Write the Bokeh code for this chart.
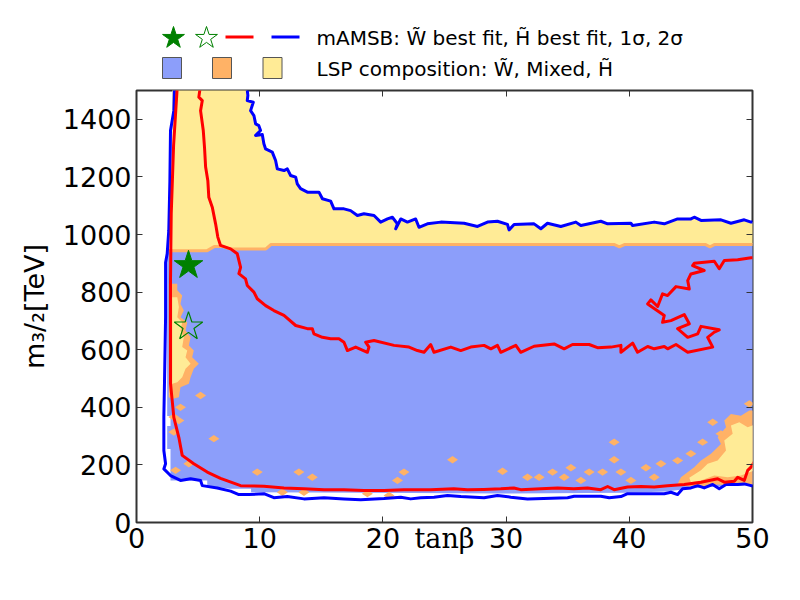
import numpy as np
from bokeh.plotting import figure
from bokeh.models import Range1d, FixedTicker, LinearAxis
from bokeh.layouts import column
from bokeh.embed import file_html
from bokeh.resources import INLINE
from bokeh.core.properties import value

# ---------------- data (tanβ, m3/2 [TeV]) ----------------
x_ticks = [0, 10, 20, 30, 40, 50]
y_ticks = [0, 200, 400, 600, 800, 1000, 1200, 1400]

wino_bf_x = [4.22]
wino_bf_y = [893]
higgsino_bf_x = [4.22]
higgsino_bf_y = [680]

# 1 sigma contour (red), outer branch (left + bottom)
red_outer_x = [3.21, 3.29, 3.01, 2.82, 2.76, 2.76, 3.03, 3.44, 3.71, 4.65,
               5.74, 6.82, 8.45, 10.34, 11.97, 13.59, 15.22, 16.84, 18.46, 20.09,
               21.71, 23.88, 25.75, 26.86, 28.19, 29.57, 30.63, 31.19, 32.82, 34.18,
               35.5, 36.61, 37.69, 38.24, 38.77, 39.86, 40.94, 42.02, 43.11, 44.46,
               45.82, 47.17, 47.71, 48.52, 48.80, 49.33, 49.61, 49.88, 50.2]
red_outer_y = [1520, 1500, 1309, 1073, 840, 483, 365, 295, 233, 204,
               175, 153, 128, 126, 120, 117, 114, 114, 111, 111,
               114, 114, 117, 114, 115, 117, 120, 114, 117, 120,
               117, 120, 114, 125, 114, 123, 125, 123, 128, 132,
               140, 152, 140, 143, 157, 146, 181, 192, 215]

# 1 sigma contour (red), inner branch
red_inner_x = [5.20, 5.06, 5.34, 5.20, 5.42, 5.52, 5.61, 5.79, 5.87, 6.15,
               6.42, 6.60, 6.82, 7.64, 8.18, 8.45, 8.31, 8.85, 8.99, 9.53,
               9.80, 10.48, 11.15, 11.97, 12.92, 13.87, 14.27, 14.40, 15.09, 15.76,
               16.43, 16.84, 17.12, 17.79, 18.74, 18.87, 18.60, 19.28, 20.90, 22.12,
               22.80, 23.34, 23.88, 24.15, 25.51, 26.32, 27.13, 28.21, 28.76, 29.30,
               29.57, 30.79, 31.19, 32.27, 33.90, 34.71, 35.39, 36.74, 37.42, 38.51,
               39.32, 39.32, 40.27, 40.67, 41.49, 42.02, 42.84, 43.11, 43.79, 44.74,
               46.77, 46.36, 46.90, 47.30, 45.82, 45.55, 44.74, 43.92, 44.87, 44.46,
               43.38, 42.70, 42.84, 41.49, 41.75, 42.30, 42.70, 43.11, 43.79, 44.87,
               44.74, 45.00, 46.08, 45.14, 45.27, 46.90, 47.30, 47.71, 48.80, 49.88,
               50.15]
red_inner_y = [1520, 1477, 1465, 1430, 1361, 1303, 1234, 1187, 1129, 1095,
               1037, 991, 962, 950, 933, 886, 864, 846, 823, 800,
               777, 753, 736, 719, 684, 673, 673, 655, 643, 638,
               638, 626, 597, 609, 591, 609, 626, 632, 615, 609,
               597, 591, 618, 591, 609, 597, 609, 615, 603, 615,
               591, 615, 591, 612, 620, 603, 618, 618, 607, 609,
               615, 591, 623, 591, 611, 603, 611, 603, 618, 591,
               609, 643, 661, 669, 681, 655, 643, 673, 690, 722,
               701, 695, 719, 759, 773, 750, 794, 788, 819, 811,
               840, 863, 875, 892, 900, 907, 881, 910, 912, 919,
               919]

# 2 sigma contour (blue), outer branch (left + bottom)
blue_outer_x = [3.09, 3.03, 2.76, 2.71, 2.62, 2.49, 2.36, 2.36, 2.27, 2.22,
                2.22, 2.36, 2.22, 2.76, 3.57, 4.39, 5.20, 5.34, 6.56, 7.64,
                8.31, 9.12, 10.34, 11.15, 12.24, 13.59, 15.22, 16.84, 18.20, 20.09,
                21.45, 22.26, 23.07, 24.15, 25.24, 26.32, 28.21, 29.30, 30.38, 31.74,
                34.99, 35.52, 37.69, 38.37, 39.32, 39.86, 42.84, 43.38, 43.92, 44.33,
                45.00, 45.55, 46.08, 46.77, 47.30, 47.85, 48.80, 49.33, 49.88, 50.2]
blue_outer_y = [1527, 1430, 1361, 1187, 1014, 933, 903, 713, 482, 366,
                250, 204, 186, 163, 146, 152, 146, 128, 120, 109,
                97, 97, 100, 86, 90, 82, 86, 82, 79, 83,
                88, 82, 86, 88, 94, 90, 86, 94, 88, 82,
                86, 91, 91, 86, 90, 100, 100, 105, 97, 117,
                120, 128, 120, 132, 117, 132, 132, 134, 128, 128]

# 2 sigma contour (blue), upper branch
blue_upper_x = [8.94, 9.04, 8.99, 9.48, 9.26, 9.53, 9.67, 9.93, 10.07, 9.67,
                10.21, 10.34, 10.48, 11.02, 11.29, 11.43, 11.97, 12.24, 12.51, 12.92,
                13.05, 13.32, 13.87, 14.81, 15.09, 15.76, 16.03, 16.84, 17.38, 17.93,
                18.46, 19.28, 19.82, 20.37, 20.77, 21.18, 21.04, 21.45, 21.99, 22.66,
                22.93, 23.61, 24.70, 26.59, 27.68, 28.49, 29.30, 30.11, 30.24, 30.65,
                32.27, 32.82, 33.36, 34.44, 35.66, 36.07, 37.69, 38.24, 40.13, 40.27,
                42.02, 42.84, 43.92, 45.00, 45.27, 45.82, 47.44, 48.25, 49.33, 49.88, 50.2]
blue_upper_y = [1520, 1483, 1465, 1459, 1430, 1413, 1384, 1378, 1361, 1344,
                1347, 1315, 1297, 1286, 1257, 1228, 1222, 1228, 1205, 1199,
                1176, 1159, 1147, 1147, 1124, 1116, 1089, 1089, 1083, 1066,
                1072, 1066, 1043, 1054, 1060, 1037, 1020, 1054, 1043, 1054,
                1025, 1037, 1043, 1039, 1028, 1043, 1046, 1035, 1016, 1035,
                1037, 1020, 1039, 1028, 1043, 1031, 1046, 1037, 1039, 1031,
                1043, 1037, 1054, 1054, 1060, 1049, 1051, 1039, 1051, 1043, 1043]

# LSP composition: boundary between wino (below) and higgsino (above)
bnd_x = [2.49, 5.74, 6.3, 7.0, 7.6, 10.5, 10.9, 38.8, 39.2, 39.6, 46.2, 46.55, 46.9, 50.2]
bnd_y = [944, 944, 958, 958, 950, 950, 965, 965, 957, 965, 965, 957, 965, 965]

# lower edge of the wino region (right to left, then up the left side)
wino_floor_x = [50.2, 48.0, 45.0, 43.0, 39.8, 30.0, 18.5, 9.3, 9.3, 7.6,
                5.74, 5.74, 2.76, 2.76, 2.49, 2.49, 2.76, 2.76, 2.49]
wino_floor_y = [130, 128, 118, 108, 103, 101, 103, 105, 117, 117,
                128, 146, 146, 255, 255, 335, 335, 370, 370]

# mixed / higgsino patches on the left
left_mixed_x = [2.62, 3.31, 3.31, 3.71, 3.57, 3.84, 3.57, 4.12, 3.98, 4.39,
                4.25, 4.65, 4.52, 5.06, 4.65, 4.39, 4.25, 3.57, 3.44, 2.90, 2.62]
left_mixed_y = [829, 829, 806, 788, 759, 736, 713, 695, 667, 643,
                615, 597, 574, 551, 534, 504, 482, 470, 435, 429, 435]
left_higgsino_x = [2.90, 3.31, 3.44, 3.31, 3.71, 3.57, 3.84, 3.71, 4.12, 3.98,
                   4.39, 3.98, 3.71, 3.31, 2.90]
left_higgsino_y = [782, 782, 748, 713, 695, 667, 643, 609, 597, 574,
                   551, 534, 504, 487, 482]

# mixed / higgsino patches at the lower right
br_mixed_x = [43.92, 44.19, 45.27, 45.82, 46.63, 47.44, 47.17, 47.85, 47.71, 48.25,
              49.06, 49.74, 50.2, 50.2, 48.52, 47.17, 45.82, 44.74]
br_mixed_y = [134, 157, 192, 215, 239, 273, 296, 331, 354, 377,
              371, 389, 389, 132, 128, 132, 125, 125]
br_higgsino_x = [44.87, 45.82, 46.36, 47.17, 47.85, 47.71, 48.39, 48.25, 48.93, 49.61,
                 50.2, 50.2, 49.06, 47.98, 46.90, 45.82, 45.00]
br_higgsino_y = [155, 181, 204, 215, 250, 285, 308, 337, 348, 331,
                 340, 181, 163, 157, 163, 146, 140]

# isolated mixed-composition points
mixed_pts_x = [3.57, 3.03, 3.44, 3.03, 5.20, 6.28, 4.25, 3.17, 9.80, 13.18,
               14.27, 21.71, 21.18, 11.84, 13.59, 18.74, 20.50, 25.65, 29.71, 31.74,
               32.68, 33.77, 35.26, 34.71, 36.07, 36.74, 37.83, 38.77, 38.77, 39.32,
               40.13, 41.35, 42.57, 43.92, 42.02, 46.77, 47.44, 45.95, 49.74, 45.00]
mixed_pts_y = [400, 366, 354, 314, 441, 291, 204, 181, 175, 175,
               157, 175, 146, 105, 105, 100, 94, 218, 178, 157,
               157, 175, 190, 157, 146, 175, 175, 279, 218, 175,
               146, 190, 204, 215, 157, 348, 308, 279, 412, 239]

legend_row1 = "mAMSB: W\u0303 best fit, H\u0303 best fit, 1\u03c3, 2\u03c3"
legend_row2 = "LSP composition: W\u0303, Mixed, H\u0303"
x_label = "tan\u03b2"
y_label = "m\u2083/\u2082[TeV]"

# ---------------- styles ----------------
C_WINO = "#8C9EFA"
C_MIXED = "#FFB266"
C_HIGGS = "#FFEB96"
C_RED = "#FF0000"
C_BLUE = "#0000FF"
C_STAR = "#008000"
AX = "#333333"

BORDER_L, BORDER_R = 136, 48

# ---------------- legend strip (page-pixel coordinates) ----------------
leg = figure(width=800, height=80, x_range=Range1d(BORDER_L, 800 - BORDER_R),
             y_range=Range1d(80, 0), toolbar_location=None, output_backend="svg",
             x_axis_type=None, y_axis_type=None, min_border_left=BORDER_L,
             min_border_right=BORDER_R, min_border_top=0, min_border_bottom=0)
leg.grid.visible = False
leg.outline_line_color = None
leg.scatter([173], [37.5], marker="star", size=23, fill_color=C_STAR, line_color=C_STAR)
leg.scatter([206], [37.5], marker="star", size=23, fill_color=None, line_color=C_STAR, line_width=1)
leg.line([225, 253], [36.5, 36.5], line_color=C_RED, line_width=3)
leg.line([271, 299], [36.5, 36.5], line_color=C_BLUE, line_width=3)
leg.rect([171.5, 221.5, 272], [67.5, 67.5, 67.5], width=19, height=21,
         fill_color=[C_WINO, C_MIXED, C_HIGGS], line_color="#555555", line_width=1)
leg.text([316], [37.5], text=[legend_row1], text_font=value("DejaVu Sans"),
         text_font_size="20px", text_baseline="middle", text_align="left", text_color="black")
leg.text([316], [68], text=[legend_row2], text_font=value("DejaVu Sans"),
         text_font_size="20px", text_baseline="middle", text_align="left", text_color="black")

# ---------------- main plot ----------------
p = figure(width=800, height=520, x_range=Range1d(0, 50), y_range=Range1d(0, 1500),
           toolbar_location=None, output_backend="svg",
           min_border_left=BORDER_L, min_border_right=BORDER_R,
           min_border_top=10, min_border_bottom=78)
p.grid.visible = False
p.outline_line_color = AX
p.outline_line_width = 2
p.background_fill_color = "white"
p.border_fill_color = "white"

# filled composition regions
higgs_x = [2.9, 2.9] + blue_upper_x + [50.2] + bnd_x[::-1]
higgs_y = [944, 1520] + blue_upper_y + [966] + bnd_y[::-1]
p.patch(higgs_x, higgs_y, fill_color=C_HIGGS, line_color=None)
p.patch(bnd_x + wino_floor_x, bnd_y + wino_floor_y, fill_color=C_WINO, line_color=None)
p.line(bnd_x, bnd_y, line_color=C_MIXED, line_width=3)
p.patch(left_mixed_x, left_mixed_y, fill_color=C_MIXED, line_color=None)
p.patch(left_higgsino_x, left_higgsino_y, fill_color=C_HIGGS, line_color=None)
p.patch(br_mixed_x, br_mixed_y, fill_color=C_MIXED, line_color=None)
p.patch(br_higgsino_x, br_higgsino_y, fill_color=C_HIGGS, line_color=None)
p.scatter(mixed_pts_x, mixed_pts_y, marker="diamond", size=11, angle=np.pi / 2,
          fill_color=C_MIXED, line_color=None)

# contours
p.line(blue_outer_x, blue_outer_y, line_color=C_BLUE, line_width=3, line_join="round")
p.line(blue_upper_x, blue_upper_y, line_color=C_BLUE, line_width=3, line_join="round")
p.line(red_outer_x, red_outer_y, line_color=C_RED, line_width=3, line_join="round")
p.line(red_inner_x, red_inner_y, line_color=C_RED, line_width=3, line_join="round")

# best-fit points
p.scatter(wino_bf_x, wino_bf_y, marker="star", size=30, fill_color=C_STAR, line_color=C_STAR)
p.scatter(higgsino_bf_x, higgsino_bf_y, marker="star", size=30, fill_color=None,
          line_color=C_STAR, line_width=1.2)

# axes
p.xaxis.ticker = FixedTicker(ticks=x_ticks)
p.yaxis.ticker = FixedTicker(ticks=y_ticks)
for ax in (p.xaxis[0], p.yaxis[0]):
    ax.major_tick_in = 6
    ax.major_tick_out = 0
    ax.major_tick_line_color = AX
    ax.minor_tick_line_color = None
    ax.axis_line_color = None
    ax.major_label_text_font = "DejaVu Sans"
    ax.major_label_text_font_size = "27px"
    ax.major_label_text_color = "black"
    ax.axis_label_text_color = "black"
    ax.axis_label_text_font_style = "normal"
p.xaxis.major_label_standoff = 5
p.yaxis.major_label_standoff = 5
p.yaxis.axis_label = y_label
p.yaxis.axis_label_text_font = "DejaVu Sans"
p.yaxis.axis_label_text_font_size = "27px"
p.yaxis.axis_label_standoff = 10
# x label sits in the tick-label row, between 20 and 30
p.xaxis.axis_label = x_label
p.xaxis.axis_label_text_font = "DejaVu Serif"
p.xaxis.axis_label_text_font_size = "27px"
p.xaxis.axis_label_standoff = -28

right_ax = LinearAxis(ticker=FixedTicker(ticks=y_ticks), major_tick_in=6, major_tick_out=0,
                      major_tick_line_color=AX, minor_tick_line_color=None,
                      axis_line_color=None, major_label_text_color=None,
                      major_label_text_font_size="1px", major_label_standoff=0)
top_ax = LinearAxis(ticker=FixedTicker(ticks=x_ticks), major_tick_in=6, major_tick_out=0,
                    major_tick_line_color=AX, minor_tick_line_color=None,
                    axis_line_color=None, major_label_text_color=None,
                    major_label_text_font_size="1px", major_label_standoff=0)
p.add_layout(right_ax, "right")
p.add_layout(top_ax, "above")

layout = column(leg, p)
open("out.html", "w").write(file_html(layout, INLINE))
